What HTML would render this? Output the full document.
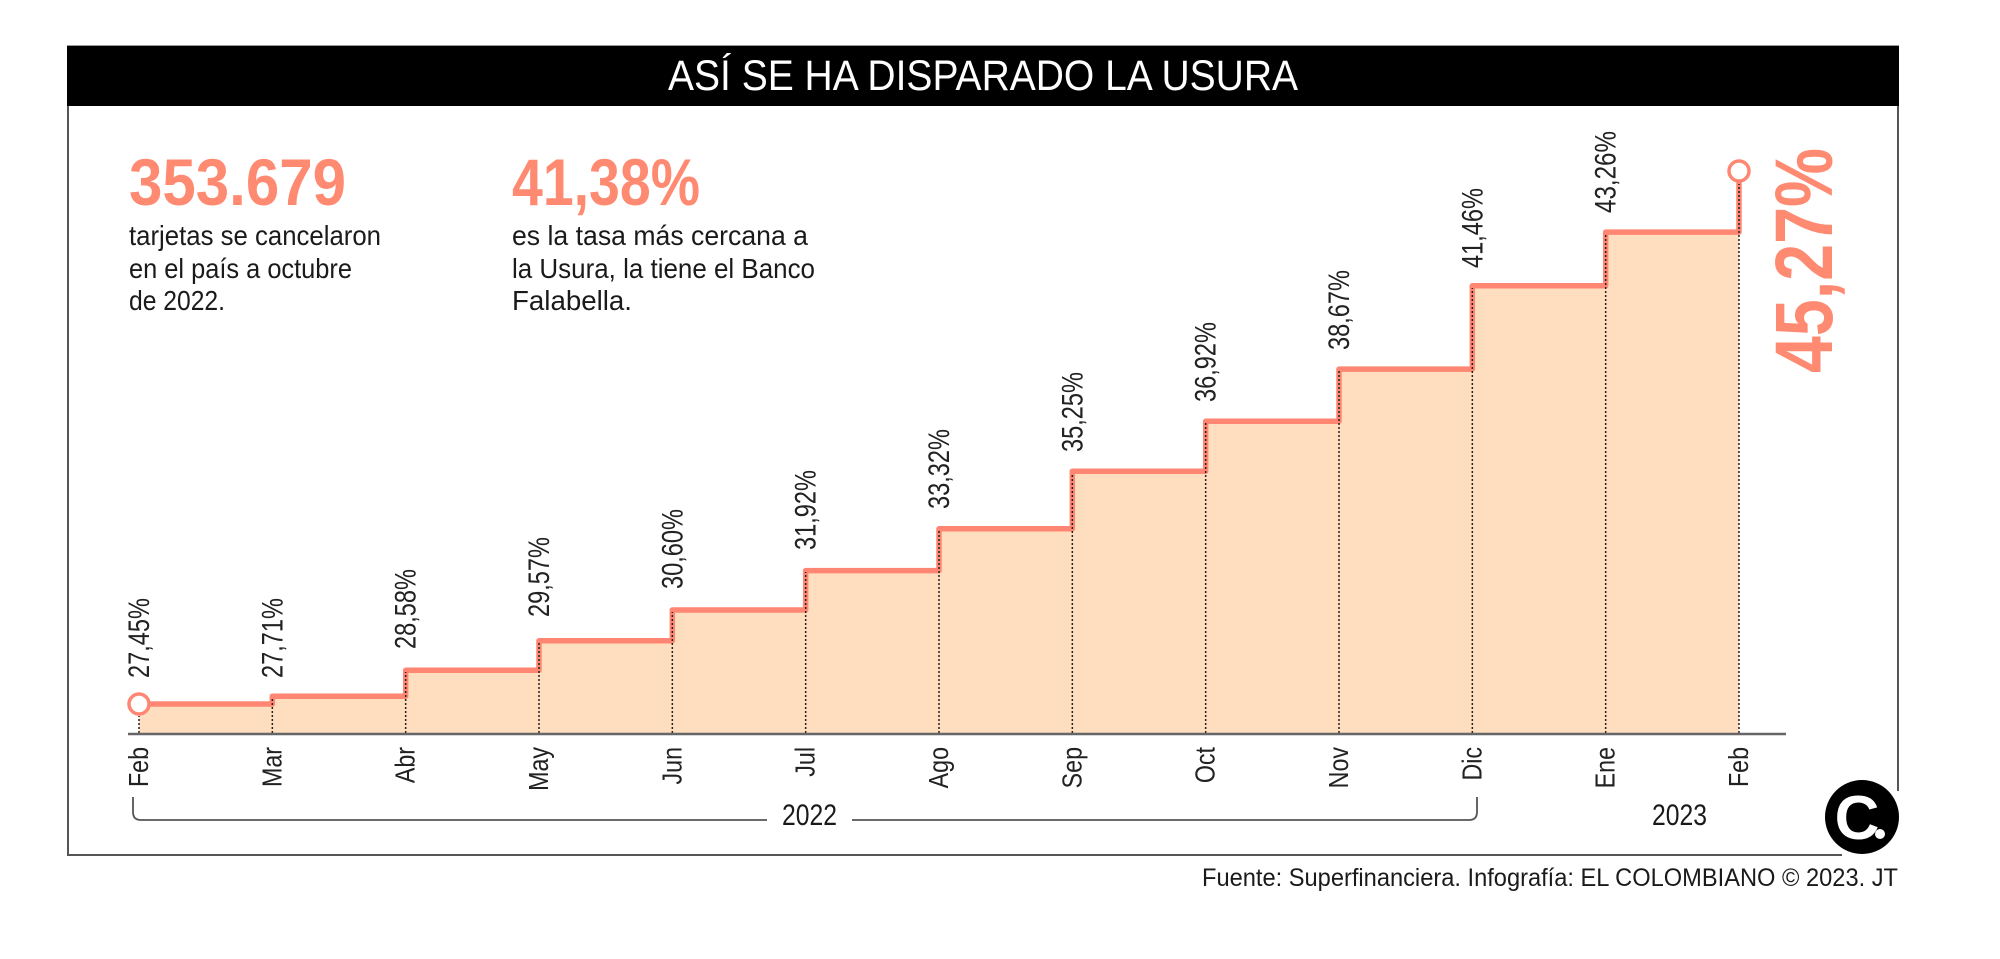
<!DOCTYPE html>
<html>
<head>
<meta charset="utf-8">
<style>
  html, body { margin: 0; padding: 0; background: #ffffff; }
  svg { display: block; }
  text { font-family: "Liberation Sans", sans-serif; }
</style>
</head>
<body>
<svg width="2000" height="959" viewBox="0 0 2000 959" xmlns="http://www.w3.org/2000/svg">
  <rect x="0" y="0" width="2000" height="959" fill="#ffffff"/>

  <!-- Title bar -->
  <rect x="67" y="45" width="1832" height="61" fill="#000000"/>
  <line x1="67" y1="45.5" x2="1899" y2="45.5" stroke="#9a9a9a" stroke-width="1"/>
  <text x="668" y="90" font-size="43" fill="#ffffff" textLength="630" lengthAdjust="spacingAndGlyphs">ASÍ SE HA DISPARADO LA USURA</text>

  <!-- Frame -->
  <line x1="68" y1="106" x2="68" y2="856" stroke="#555555" stroke-width="2"/>
  <line x1="67" y1="855" x2="1842" y2="855" stroke="#555555" stroke-width="2"/>
  <line x1="1898" y1="106" x2="1898" y2="791" stroke="#555555" stroke-width="2"/>

  <!-- Stats -->
  <text x="129" y="205" font-size="66" font-weight="bold" fill="#FF8A72" textLength="217" lengthAdjust="spacingAndGlyphs">353.679</text>
  <text x="129" y="245" font-size="28" fill="#1a1a1a" textLength="252" lengthAdjust="spacingAndGlyphs">tarjetas se cancelaron</text>
  <text x="129" y="278" font-size="28" fill="#1a1a1a" textLength="223" lengthAdjust="spacingAndGlyphs">en el país a octubre</text>
  <text x="129" y="310" font-size="28" fill="#1a1a1a" textLength="96" lengthAdjust="spacingAndGlyphs">de 2022.</text>

  <text x="512" y="205" font-size="66" font-weight="bold" fill="#FF8A72" textLength="188" lengthAdjust="spacingAndGlyphs">41,38%</text>
  <text x="512" y="245" font-size="28" fill="#1a1a1a" textLength="296" lengthAdjust="spacingAndGlyphs">es la tasa más cercana a</text>
  <text x="512" y="278" font-size="28" fill="#1a1a1a" textLength="303" lengthAdjust="spacingAndGlyphs">la Usura, la tiene el Banco</text>
  <text x="512" y="310" font-size="28" fill="#1a1a1a" textLength="120" lengthAdjust="spacingAndGlyphs">Falabella.</text>

  <!-- Area fill -->
  <path d="M139,734 V704 H272.33 V696.2 H405.67 V670.3 H539 V640.7 H672.33 V610 H805.67 V570.6 H939 V528.8 H1072.33 V471.2 H1205.67 V421.3 H1339 V369.1 H1472.33 V285.8 H1605.67 V232.1 H1739 V734 Z" fill="#FFDDBF"/>

  <!-- Step line -->
  <path d="M139,704 H272.33 V696.2 H405.67 V670.3 H539 V640.7 H672.33 V610 H805.67 V570.6 H939 V528.8 H1072.33 V471.2 H1205.67 V421.3 H1339 V369.1 H1472.33 V285.8 H1605.67 V232.1 H1739 V182" fill="none" stroke="#FF8672" stroke-width="5.5" stroke-linejoin="round"/>

  <!-- Dotted verticals -->
  <g stroke="#222222" stroke-width="1.5" stroke-dasharray="2,2" fill="none">
    <line x1="139" y1="733" x2="139" y2="716"/>
    <line x1="272.33" y1="733" x2="272.33" y2="698"/>
    <line x1="405.67" y1="733" x2="405.67" y2="672"/>
    <line x1="539" y1="733" x2="539" y2="642"/>
    <line x1="672.33" y1="733" x2="672.33" y2="612"/>
    <line x1="805.67" y1="733" x2="805.67" y2="572"/>
    <line x1="939" y1="733" x2="939" y2="530"/>
    <line x1="1072.33" y1="733" x2="1072.33" y2="473"/>
    <line x1="1205.67" y1="733" x2="1205.67" y2="423"/>
    <line x1="1339" y1="733" x2="1339" y2="371"/>
    <line x1="1472.33" y1="733" x2="1472.33" y2="288"/>
    <line x1="1605.67" y1="733" x2="1605.67" y2="234"/>
    <line x1="1739" y1="733" x2="1739" y2="184"/>
  </g>

  <!-- Axis -->
  <line x1="128" y1="734" x2="1786" y2="734" stroke="#666666" stroke-width="2.5"/>

  <!-- End circles -->
  <circle cx="139" cy="704" r="10" fill="#ffffff" stroke="#FF8672" stroke-width="3.5"/>
  <circle cx="1739" cy="171" r="10" fill="#ffffff" stroke="#FF8672" stroke-width="3.5"/>

  <!-- Value labels -->
  <g font-size="30" fill="#222222">
    <text transform="translate(149,678) rotate(-90)" textLength="80" lengthAdjust="spacingAndGlyphs">27,45%</text>
    <text transform="translate(282.33,678) rotate(-90)" textLength="80" lengthAdjust="spacingAndGlyphs">27,71%</text>
    <text transform="translate(415.67,649) rotate(-90)" textLength="80" lengthAdjust="spacingAndGlyphs">28,58%</text>
    <text transform="translate(549,617) rotate(-90)" textLength="80" lengthAdjust="spacingAndGlyphs">29,57%</text>
    <text transform="translate(682.33,589) rotate(-90)" textLength="80" lengthAdjust="spacingAndGlyphs">30,60%</text>
    <text transform="translate(815.67,550) rotate(-90)" textLength="80" lengthAdjust="spacingAndGlyphs">31,92%</text>
    <text transform="translate(949,509) rotate(-90)" textLength="80" lengthAdjust="spacingAndGlyphs">33,32%</text>
    <text transform="translate(1082.33,452) rotate(-90)" textLength="80" lengthAdjust="spacingAndGlyphs">35,25%</text>
    <text transform="translate(1215.67,402) rotate(-90)" textLength="80" lengthAdjust="spacingAndGlyphs">36,92%</text>
    <text transform="translate(1349,350) rotate(-90)" textLength="80" lengthAdjust="spacingAndGlyphs">38,67%</text>
    <text transform="translate(1482.33,268) rotate(-90)" textLength="80" lengthAdjust="spacingAndGlyphs">41,46%</text>
    <text transform="translate(1615.67,213) rotate(-90)" textLength="82" lengthAdjust="spacingAndGlyphs">43,26%</text>
  </g>

  <!-- Big final value -->
  <text transform="translate(1832,373) rotate(-90)" font-size="82" font-weight="bold" fill="#FF8A72" textLength="225" lengthAdjust="spacingAndGlyphs">45,27%</text>

  <!-- Month labels -->
  <g font-size="28" fill="#222222" text-anchor="end">
    <text transform="translate(148,747) rotate(-90) scale(0.83,1)">Feb</text>
    <text transform="translate(281.33,747) rotate(-90) scale(0.83,1)">Mar</text>
    <text transform="translate(414.67,747) rotate(-90) scale(0.83,1)">Abr</text>
    <text transform="translate(548,747) rotate(-90) scale(0.83,1)">May</text>
    <text transform="translate(681.33,747) rotate(-90) scale(0.83,1)">Jun</text>
    <text transform="translate(814.67,747) rotate(-90) scale(0.83,1)">Jul</text>
    <text transform="translate(948,747) rotate(-90) scale(0.83,1)">Ago</text>
    <text transform="translate(1081.33,747) rotate(-90) scale(0.83,1)">Sep</text>
    <text transform="translate(1214.67,747) rotate(-90) scale(0.83,1)">Oct</text>
    <text transform="translate(1348,747) rotate(-90) scale(0.83,1)">Nov</text>
    <text transform="translate(1481.33,747) rotate(-90) scale(0.83,1)">Dic</text>
    <text transform="translate(1614.67,747) rotate(-90) scale(0.83,1)">Ene</text>
    <text transform="translate(1748,747) rotate(-90) scale(0.83,1)">Feb</text>
  </g>

  <!-- Year bracket -->
  <path d="M133,797 V812 Q133,820 141,820 H767" fill="none" stroke="#555555" stroke-width="1.8"/>
  <path d="M852,820 H1469 Q1477,820 1477,812 V797" fill="none" stroke="#555555" stroke-width="1.8"/>
  <text x="782" y="825" font-size="30" fill="#1a1a1a" textLength="55" lengthAdjust="spacingAndGlyphs">2022</text>
  <text x="1652" y="825" font-size="30" fill="#1a1a1a" textLength="55" lengthAdjust="spacingAndGlyphs">2023</text>

  <!-- Logo -->
  <circle cx="1862" cy="817" r="37" fill="#000000"/>
  <text x="1857" y="839" font-family="'Liberation Serif', serif" font-size="62" font-weight="bold" fill="#ffffff" text-anchor="middle">C</text>
  <circle cx="1880" cy="834" r="5" fill="#ffffff"/>

  <!-- Footer -->
  <text x="1202" y="886" font-size="25" fill="#1a1a1a" textLength="696" lengthAdjust="spacingAndGlyphs">Fuente: Superfinanciera. Infografía: EL COLOMBIANO © 2023. JT</text>
</svg>
</body>
</html>
